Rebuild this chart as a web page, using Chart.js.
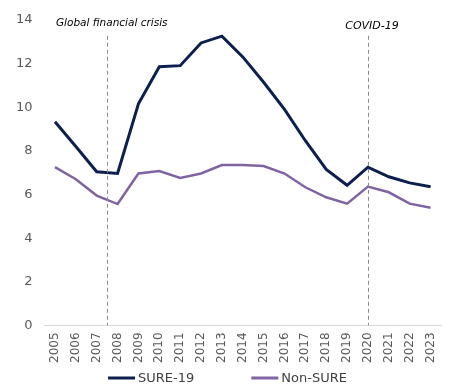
<!DOCTYPE html>
<html><head><meta charset="utf-8">
<script src="https://cdn.jsdelivr.net/npm/chart.js@4"></script>
<style>html,body{margin:0;padding:0;background:#fff;}#wrap{width:453px;height:391px;}</style>
</head><body><div id="wrap"><canvas id="c" width="453" height="391"></canvas></div>
<script>
const years = ["2005","2006","2007","2008","2009","2010","2011","2012","2013","2014","2015","2016","2017","2018","2019","2020","2021","2022","2023"];
const sure19 = [9.33,8.2,7.04,6.96,10.15,11.85,11.9,12.94,13.25,12.3,11.14,9.9,8.46,7.15,6.42,7.25,6.81,6.53,6.35];
const nonSure = [7.25,6.7,5.95,5.56,6.96,7.07,6.76,6.96,7.35,7.35,7.3,6.96,6.33,5.87,5.58,6.36,6.1,5.58,5.39];
const yTicks = [0,2,4,6,8,10,12,14];
const events = [{label:"Global financial crisis", at:2.5, align:"left"},{label:"COVID-19", at:15, align:"center"}];

const FONT = "'DejaVu Sans', Verdana, sans-serif";
const eventPlugin = {
  id:'events',
  afterDatasetsDraw(chart){
    const ctx = chart.ctx, xs = chart.scales.x, ys = chart.scales.y;
    events.forEach(ev=>{
      const lo = Math.floor(ev.at), hi = Math.ceil(ev.at);
      const px = xs.getPixelForValue(lo) + (xs.getPixelForValue(hi)-xs.getPixelForValue(lo))*(ev.at-lo);
      ctx.save();
      ctx.strokeStyle = '#8c8c8c'; ctx.lineWidth = 1; ctx.setLineDash([4,3]);
      ctx.beginPath(); ctx.moveTo(Math.round(px)+0.5, ys.top+16); ctx.lineTo(Math.round(px)+0.5, ys.bottom); ctx.stroke();
      ctx.setLineDash([]);
      ctx.fillStyle = '#000'; ctx.textBaseline='middle';
      if (ev.align==='left'){ ctx.font = "italic 10.5px " + FONT; ctx.textAlign='left'; ctx.fillText(ev.label, xs.getPixelForValue(0)+1, ys.top+3); }
      else { ctx.font = "italic 11px " + FONT; ctx.textAlign='center'; ctx.fillText(ev.label, px+4, ys.top+6); }
      ctx.restore();
    });
  }
};
const legendPlugin = {
  id:'customLegend',
  afterDraw(chart){
    const ctx = chart.ctx;
    ctx.save();
    ctx.font = "13px " + FONT;
    const lineW = 27, gapTxt = 3, gapItem = 57;
    const items = chart.data.datasets.map(d=>({label:d.label, color:d.borderColor, w: lineW + gapTxt + ctx.measureText(d.label).width}));
    const total = items.reduce((a,b)=>a+b.w,0) + gapItem*(items.length-1);
    let x = chart.width/2 + 1 - total/2;
    const y = chart.height - 13;
    items.forEach(it=>{
      ctx.fillStyle = it.color; ctx.fillRect(x, y-1.5, lineW, 3);
      ctx.fillStyle = '#404040'; ctx.textAlign='left'; ctx.textBaseline='middle';
      ctx.fillText(it.label, x+lineW+gapTxt, y+1);
      x += it.w + gapItem;
    });
    ctx.restore();
  }
};

new Chart(document.getElementById('c'), {
  type:'line',
  data:{labels:years, datasets:[
    {label:'SURE-19', data:sure19, borderColor:'#0c1f4e', backgroundColor:'#0c1f4e', borderWidth:3, pointRadius:0, tension:0},
    {label:'Non-SURE', data:nonSure, borderColor:'#8064a2', backgroundColor:'#8064a2', borderWidth:2.5, pointRadius:0, tension:0}
  ]},
  options:{
    responsive:false, animation:false, devicePixelRatio:1,
    layout:{padding:{top:16,right:12,left:4,bottom:21}},
    plugins:{ legend:{display:false}, tooltip:{enabled:false} },
    scales:{
      x:{offset:true, grid:{display:false, drawTicks:false}, border:{display:true, color:'#d9d9d9'},
         ticks:{color:'#595959', font:{family:FONT,size:12}, maxRotation:90, minRotation:90, padding:7, autoSkip:false}},
      y:{min:0, max:14, afterBuildTicks(s){ s.ticks = yTicks.map(v=>({value:v})); },
         grid:{display:false, drawTicks:false}, border:{display:false},
         ticks:{color:'#595959', font:{family:FONT,size:13}, padding:12}}
    }
  },
  plugins:[eventPlugin, legendPlugin]
});
</script></body></html>
